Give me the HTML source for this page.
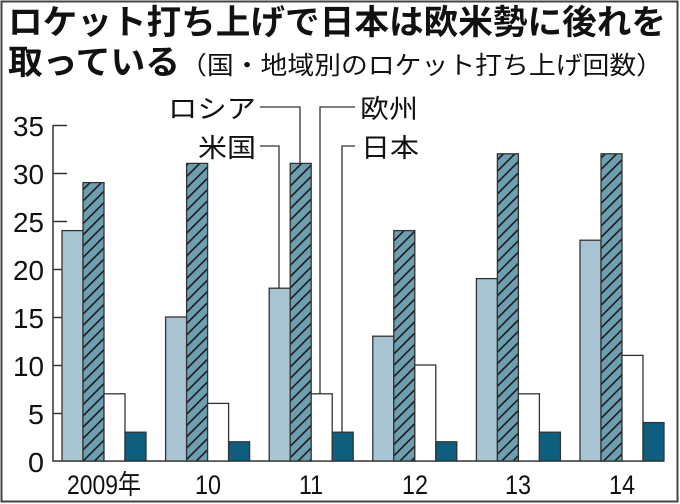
<!DOCTYPE html>
<html><head><meta charset="utf-8"><style>
body{margin:0;background:#fff}
svg{display:block}
text{font-family:"Liberation Sans","Noto Sans CJK JP",sans-serif;fill:#111}
</style></head><body>
<svg width="680" height="504" viewBox="0 0 680 504" xmlns="http://www.w3.org/2000/svg">
<defs>
<pattern id="h" patternUnits="userSpaceOnUse" width="8" height="8" patternTransform="rotate(-45)">
<rect width="8" height="8" fill="#6e9fb1"/>
<rect x="0" y="0" width="8" height="1.6" fill="#1a1a1a"/>
</pattern>
</defs>
<rect x="1.5" y="1.5" width="676" height="500" fill="#fff" stroke="#444" stroke-width="2"/>
<text x="8" y="34" font-size="34" font-weight="bold" textLength="658" lengthAdjust="spacingAndGlyphs">ロケット打ち上げで日本は欧米勢に後れを</text>
<text x="8" y="74" font-size="34" font-weight="bold" textLength="172" lengthAdjust="spacingAndGlyphs">取っている</text>
<text x="180" y="74" font-size="25" textLength="483" lengthAdjust="spacingAndGlyphs">（国・地域別のロケット打ち上げ回数）</text>
<g stroke="#333" stroke-width="1.5" fill="none">
<path d="M53 125 V461 H664"/>
<path d="M53 125.5h14M53 173.5h14M53 221.5h14M53 269.5h14M53 317.5h14M53 365.5h14M53 413.5h14"/>
</g>
<g font-size="28">
<text x="13" y="136" textLength="31" lengthAdjust="spacingAndGlyphs">35</text>
<text x="13" y="184" textLength="31" lengthAdjust="spacingAndGlyphs">30</text>
<text x="13" y="232" textLength="31" lengthAdjust="spacingAndGlyphs">25</text>
<text x="13" y="280" textLength="31" lengthAdjust="spacingAndGlyphs">20</text>
<text x="13" y="328" textLength="31" lengthAdjust="spacingAndGlyphs">15</text>
<text x="13" y="376" textLength="31" lengthAdjust="spacingAndGlyphs">10</text>
<text x="28" y="424" textLength="16" lengthAdjust="spacingAndGlyphs">5</text>
<text x="28" y="472" textLength="16" lengthAdjust="spacingAndGlyphs">0</text>
</g>
<g stroke="#333" stroke-width="1.3">
<rect x="62" y="230.6" width="21" height="230.4" fill="#a9c5d4"/>
<rect x="83" y="182.6" width="21" height="278.4" fill="url(#h)"/>
<rect x="104" y="393.8" width="21" height="67.2" fill="#fff"/>
<rect x="125" y="432.2" width="21" height="28.8" fill="#0e5e80"/>

<rect x="165.6" y="317" width="21" height="144" fill="#a9c5d4"/>
<rect x="186.6" y="163.4" width="21" height="297.6" fill="url(#h)"/>
<rect x="207.6" y="403.4" width="21" height="57.6" fill="#fff"/>
<rect x="228.6" y="441.8" width="21" height="19.2" fill="#0e5e80"/>

<rect x="269.2" y="288.2" width="21" height="172.8" fill="#a9c5d4"/>
<rect x="290.2" y="163.4" width="21" height="297.6" fill="url(#h)"/>
<rect x="311.2" y="393.8" width="21" height="67.2" fill="#fff"/>
<rect x="332.2" y="432.2" width="21" height="28.8" fill="#0e5e80"/>

<rect x="372.8" y="336.2" width="21" height="124.8" fill="#a9c5d4"/>
<rect x="393.8" y="230.6" width="21" height="230.4" fill="url(#h)"/>
<rect x="414.8" y="365" width="21" height="96" fill="#fff"/>
<rect x="435.8" y="441.8" width="21" height="19.2" fill="#0e5e80"/>

<rect x="476.4" y="278.6" width="21" height="182.4" fill="#a9c5d4"/>
<rect x="497.4" y="153.8" width="21" height="307.2" fill="url(#h)"/>
<rect x="518.4" y="393.8" width="21" height="67.2" fill="#fff"/>
<rect x="539.4" y="432.2" width="21" height="28.8" fill="#0e5e80"/>

<rect x="580" y="240.2" width="21" height="220.8" fill="#a9c5d4"/>
<rect x="601" y="153.8" width="21" height="307.2" fill="url(#h)"/>
<rect x="622" y="355.4" width="21" height="105.6" fill="#fff"/>
<rect x="643" y="422.6" width="21" height="38.4" fill="#0e5e80"/>
</g>
<g stroke="#333" stroke-width="1.3" fill="none">
<path d="M260 107H300V163"/>
<path d="M260 146H279V288"/>
<path d="M355 107H320V394"/>
<path d="M355 146H342V432"/>
</g>
<g font-size="26">
<text x="168" y="118" textLength="88" lengthAdjust="spacingAndGlyphs">ロシア</text>
<text x="198" y="157" textLength="58" lengthAdjust="spacingAndGlyphs">米国</text>
<text x="360" y="118" textLength="58" lengthAdjust="spacingAndGlyphs">欧州</text>
<text x="361" y="157" textLength="58" lengthAdjust="spacingAndGlyphs">日本</text>
</g>
<g font-size="27">
<text x="67" y="494" textLength="74" lengthAdjust="spacingAndGlyphs">2009年</text>
<text x="195" y="494" textLength="26" lengthAdjust="spacingAndGlyphs">10</text>
<text x="299" y="494" textLength="24" lengthAdjust="spacingAndGlyphs">11</text>
<text x="402" y="494" textLength="26" lengthAdjust="spacingAndGlyphs">12</text>
<text x="505" y="494" textLength="26" lengthAdjust="spacingAndGlyphs">13</text>
<text x="609" y="494" textLength="26" lengthAdjust="spacingAndGlyphs">14</text>
</g>
</svg>
</body></html>
